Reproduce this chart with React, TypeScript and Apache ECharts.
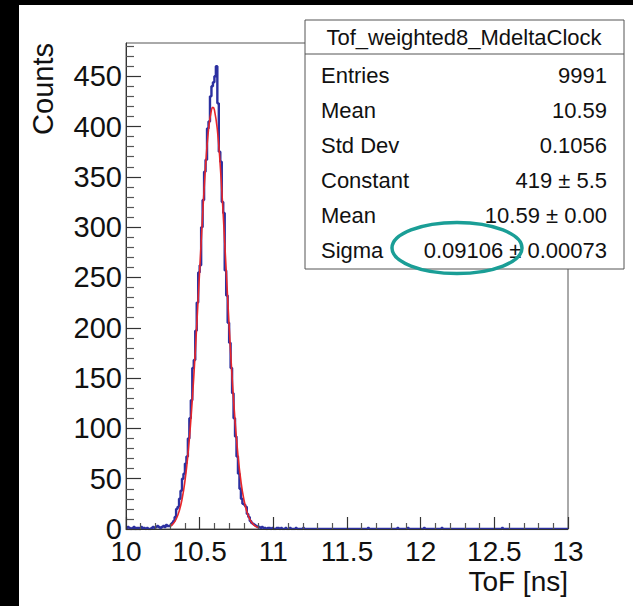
import React, { useEffect, useRef } from "react";
import * as echarts from "echarts";

// Histogram: 0.01 ns bins from 10.00; explicit counts for 10.00–11.19, sparse tail after
const binStart = 10.0;
const binWidth = 0.01;
const nBins = 300;
const headCounts = [
  1, 2, 1, 0, 1, 2, 0, 1, 1, 0, 2, 1, 1, 0, 1, 0, 0, 1, 2, 1, 2, 3, 2, 1, 2, 3, 2, 4, 3, 3,
  4, 6, 8, 12, 20, 22, 30, 38, 50, 55,
  65, 72, 90, 110, 128, 160, 168, 197, 225, 255,
  262, 300, 327, 355, 367, 398, 405, 430, 440, 444,
  450, 460, 423, 375, 365, 325, 314, 257, 232, 205,
  185, 160, 135, 110, 92, 72, 55, 40, 30, 25,
  24, 22, 15, 12, 8, 6, 5, 4, 3, 2,
  2, 1, 2, 1, 1, 0, 1, 1, 0, 1, 0, 0, 1, 1, 0, 1, 0, 0, 1, 0, 0, 1, 0, 0, 0, 1, 0, 0, 0,
];
const tailX = [11.2, 11.64, 11.84, 11.91, 12.02, 12.14, 12.55];
const tailCounts = [1, 1, 1, 1, 1, 1, 1];

// Gaussian fit curve
const fitX = [10.3, 10.32, 10.34, 10.36, 10.38, 10.4, 10.42, 10.44, 10.46, 10.48, 10.5, 10.52, 10.54, 10.56, 10.58, 10.59, 10.6, 10.62, 10.64, 10.66, 10.68, 10.7, 10.72, 10.74, 10.76, 10.78, 10.8, 10.82, 10.84, 10.86, 10.88, 10.9];
const fitY = [2.6, 5.2, 9.7, 17.3, 29.3, 47.5, 73.3, 107.9, 151.2, 202, 257, 311.8, 360.4, 396.9, 416.5, 419, 416.5, 396.9, 360.4, 311.8, 257, 202, 151.2, 107.9, 73.3, 47.5, 29.3, 17.3, 9.7, 5.2, 2.6, 1.3];

const xMajor = [10, 10.5, 11, 11.5, 12, 12.5, 13];
const xMinor = [10.1, 10.2, 10.3, 10.4, 10.6, 10.7, 10.8, 10.9, 11.1, 11.2, 11.3, 11.4, 11.6, 11.7, 11.8, 11.9, 12.1, 12.2, 12.3, 12.4, 12.6, 12.7, 12.8, 12.9];
const yMajor = [0, 50, 100, 150, 200, 250, 300, 350, 400, 450];
const yMinor = [10, 20, 30, 40, 60, 70, 80, 90, 110, 120, 130, 140, 160, 170, 180, 190, 210, 220, 230, 240, 260, 270, 280, 290, 310, 320, 330, 340, 360, 370, 380, 390, 410, 420, 430, 440, 460, 470, 480];

const statsTitle = "Tof_weighted8_MdeltaClock";
const statsLabels = ["Entries", "Mean", "Std Dev", "Constant", "Mean", "Sigma"];
const statsValues = ["9991", "10.59", "0.1056", "419 \u00b1 5.5", "10.59 \u00b1 0.00", "0.09106 \u00b1 0.00073"];

const FONT = "'Liberation Sans', Arial, Helvetica, sans-serif";

export default function App() {
  const ref = useRef<HTMLDivElement>(null);
  useEffect(() => {
    document.body.style.margin = "0";
    if (!ref.current) return;
    const chart = echarts.init(ref.current, null, { renderer: "svg" });

    const counts: number[] = new Array(nBins).fill(0);
    headCounts.forEach((c, i) => (counts[i] = c));
    tailX.forEach((x, k) => {
      const i = Math.round((x - binStart) / binWidth);
      counts[i] = tailCounts[k];
    });
    const histData: number[][] = [];
    for (let i = 0; i < nBins; i++) {
      histData.push([+(binStart + i * binWidth).toFixed(2), counts[i]]);
    }
    histData.push([+(binStart + nBins * binWidth).toFixed(2), counts[nBins - 1]]);
    const fitData = fitX.map((x, i) => [x, fitY[i]]);

    const rowY = [75, 110, 145, 180, 215, 250];
    const g: any[] = [
      { type: "rect", shape: { x: 305, y: 20, width: 319, height: 249 }, style: { fill: "#fff", stroke: "#555", lineWidth: 1 }, z: 100 },
      { type: "line", shape: { x1: 305, y1: 54, x2: 624, y2: 54 }, style: { stroke: "#555", lineWidth: 1 }, z: 101 },
      { type: "text", x: 464, y: 37, style: { text: statsTitle, font: `22px ${FONT}`, fill: "#111", align: "center", verticalAlign: "middle" }, z: 101 },
    ];
    statsLabels.forEach((lab, i) => {
      g.push({ type: "text", x: 321, y: rowY[i], style: { text: lab, font: `22px ${FONT}`, fill: "#111", align: "left", verticalAlign: "middle" }, z: 101 });
      g.push({ type: "text", x: 607, y: rowY[i], style: { text: statsValues[i], font: `22px ${FONT}`, fill: "#111", align: "right", verticalAlign: "middle" }, z: 101 });
    });
    g.push({ type: "ellipse", shape: { cx: 457, cy: 248, rx: 65, ry: 25.5 }, style: { fill: "none", stroke: "#1a9e96", lineWidth: 3.5 }, z: 102 });
    g.push({ type: "text", x: 43, y: 43, rotation: Math.PI / 2, style: { text: "Counts", font: `29px ${FONT}`, fill: "#111", align: "right", verticalAlign: "middle" }, z: 101 });
    g.push({ type: "text", x: 568, y: 581, style: { text: "ToF [ns]", font: `28px ${FONT}`, fill: "#111", align: "right", verticalAlign: "middle" }, z: 101 });

    chart.setOption({
      animation: false,
      backgroundColor: "transparent",
      grid: { left: 126, top: 43, width: 442, height: 486, show: true, borderColor: "#555", borderWidth: 1, backgroundColor: "transparent" },
      xAxis: [
        {
          type: "value",
          min: 10,
          max: 13,
          interval: 0.5,
          position: "bottom",
          z: 5,
          axisLine: { show: true, onZero: false, lineStyle: { color: "#333", width: 1 } },
          axisTick: { show: true, inside: true, length: 12, customValues: xMajor, lineStyle: { color: "#333", width: 1.2 } },
          axisLabel: { fontSize: 28, fontFamily: FONT, color: "#111", margin: 8, customValues: xMajor },
          splitLine: { show: false },
        },
        {
          type: "value",
          min: 10,
          max: 13,
          position: "bottom",
          z: 5,
          axisLine: { show: false, onZero: false },
          axisLabel: { show: false },
          splitLine: { show: false },
          axisTick: { show: true, inside: true, length: 6, customValues: xMinor, lineStyle: { color: "#555", width: 1.2 } },
        },
      ],
      yAxis: [
        {
          type: "value",
          min: 0,
          max: 483,
          position: "left",
          z: 5,
          axisLine: { show: true, onZero: false, lineStyle: { color: "#333", width: 1 } },
          axisTick: { show: true, inside: true, length: 15, customValues: yMajor, lineStyle: { color: "#333", width: 1.2 } },
          axisLabel: { fontSize: 29, fontFamily: FONT, color: "#111", margin: 4, customValues: yMajor },
          splitLine: { show: false },
        },
        {
          type: "value",
          min: 0,
          max: 483,
          position: "left",
          z: 5,
          axisLine: { show: false, onZero: false },
          axisTick: { show: true, inside: true, length: 8, customValues: yMinor, lineStyle: { color: "#555", width: 1.2 } },
          axisLabel: { show: false },
          splitLine: { show: false },
        },
      ],
      series: [
        { type: "line", step: "end", data: histData, symbol: "none", lineStyle: { color: "#2c30a0", width: 2.4 }, z: 3 },
        { type: "line", smooth: true, data: fitData, symbol: "none", lineStyle: { color: "#e8262a", width: 1.6 }, z: 4 },
      ],
      graphic: g,
    });
    return () => chart.dispose();
  }, []);

  return (
    <div style={{ position: "relative", width: 633, height: 606, background: "#000" }}>
      <div style={{ position: "absolute", left: 19, top: 5, right: 0, bottom: 0, background: "#fff" }} />
      <div ref={ref} style={{ position: "absolute", left: 0, top: 0, width: 633, height: 606 }} />
    </div>
  );
}
